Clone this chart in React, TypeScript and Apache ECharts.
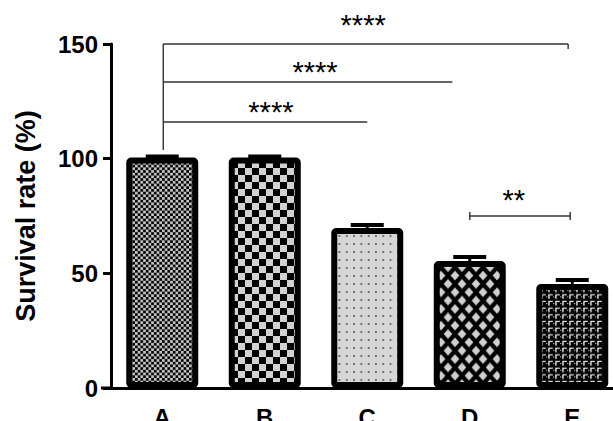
import React, { useEffect, useRef } from 'react';
import * as echarts from 'echarts';

// ---- data ----
const categories = ['A', 'B', 'C', 'D', 'E'];
const survival = [100.5, 100.5, 69.8, 55.4, 45.4];
const errorTop = [100.9, 100.9, 71.1, 57.1, 47.1];
const yTicks = [0, 50, 100, 150];

// significance brackets (x in category-index units, y in %)
const bracketStart = [0.01, 0.01, 0.01, 3.0];
const bracketEnd = [3.96, 2.83, 2.0, 3.98];
const bracketLevel = [150, 133.4, 116, 75];
const bracketLeftDrop = [103.8, 133.4, 116, 75];
const bracketCaps = ['right', 'none', 'none', 'both'];
const starLabels = ['****', '****', '****', '**'];
const starX = [1.96, 1.49, 1.06, 3.43];
const starY = [158.2, 137.8, 120.4, 82];

const FONT = 'Arial, "Liberation Sans", Helvetica, sans-serif';

function tile(w: number, h: number, draw: (ctx: CanvasRenderingContext2D) => void) {
  const c = document.createElement('canvas');
  c.width = w;
  c.height = h;
  const ctx = c.getContext('2d')!;
  draw(ctx);
  return c;
}

function makePatterns() {
  const gray = '#c9c9c9';
  // A: fine checkerboard
  const a = tile(20, 20, (ctx) => {
    ctx.fillStyle = gray; ctx.fillRect(0, 0, 20, 20);
    ctx.fillStyle = '#000'; ctx.fillRect(0, 0, 10, 10); ctx.fillRect(10, 10, 10, 10);
  });
  // B: coarse checkerboard
  const b = tile(20, 20, (ctx) => {
    ctx.fillStyle = '#d2d2d2'; ctx.fillRect(0, 0, 20, 20);
    ctx.fillStyle = '#000'; ctx.fillRect(0, 0, 10, 10); ctx.fillRect(10, 10, 10, 10);
  });
  // C: dots on light gray
  const c = tile(22, 24, (ctx) => {
    ctx.fillStyle = '#d6d6d6'; ctx.fillRect(0, 0, 22, 24);
    ctx.fillStyle = '#000'; ctx.fillRect(9, 10, 4, 4);
  });
  // D: black lattice with gray diamonds
  const d = tile(42, 50, (ctx) => {
    ctx.fillStyle = '#000'; ctx.fillRect(0, 0, 42, 50);
    ctx.fillStyle = '#d0d0d0';
    const hw = 13;
    const hh = 14.5;
    const centers = [[21, 25], [0, 0], [42, 0], [0, 50], [42, 50]];
    centers.forEach(([cx, cy]) => {
      ctx.beginPath();
      ctx.moveTo(cx, cy - hh); ctx.lineTo(cx + hw, cy); ctx.lineTo(cx, cy + hh); ctx.lineTo(cx - hw, cy);
      ctx.closePath(); ctx.fill();
    });
  });
  // E: black with small light "Γ" marks
  const e = tile(21, 20, (ctx) => {
    ctx.fillStyle = '#000'; ctx.fillRect(0, 0, 21, 20);
    ctx.fillStyle = '#f0f0f0';
    ctx.fillRect(7, 2, 13, 4);
    ctx.fillRect(7, 2, 4, 14);
    ctx.fillRect(0, 9, 4, 3);
  });
  return [
    { image: a, repeat: 'repeat', imageWidth: 5.4, imageHeight: 5.4 },
    { image: b, repeat: 'repeat', imageWidth: 14, imageHeight: 14 },
    { image: c, repeat: 'repeat', imageWidth: 7.3, imageHeight: 8 },
    { image: d, repeat: 'repeat', imageWidth: 14, imageHeight: 16.7 },
    { image: e, repeat: 'repeat', imageWidth: 7, imageHeight: 6.67 },
  ];
}

export default function App() {
  const ref = useRef<HTMLDivElement>(null);

  useEffect(() => {
    document.body.style.margin = '0';
    const chart = echarts.init(ref.current!, undefined, { renderer: 'svg' });
    const patterns = makePatterns();

    const option: any = {
      animation: false,
      backgroundColor: '#fff',
      grid: { left: 111, right: -10.5, top: 44, bottom: 33, containLabel: false, outerBoundsMode: 'none' },
      xAxis: [
        {
          type: 'category',
          data: categories,
          boundaryGap: true,
          axisLine: { onZero: false, lineStyle: { color: '#000', width: 3 } },
          axisTick: { alignWithLabel: true, length: 8, lineStyle: { color: '#000', width: 3 } },
          axisLabel: { color: '#000', fontSize: 24, fontWeight: 'bold', fontFamily: FONT, margin: 17 },
        },
        { type: 'value', min: -0.5, max: 4.5, show: false },
      ],
      yAxis: {
        type: 'value',
        min: yTicks[0],
        max: yTicks[yTicks.length - 1],
        interval: yTicks[1] - yTicks[0],
        name: 'Survival rate (%)',
        nameLocation: 'middle',
        nameGap: 72,
        nameTextStyle: { color: '#000', fontSize: 27, fontWeight: 'bold', fontFamily: FONT },
        axisLine: { show: true, onZero: false, lineStyle: { color: '#000', width: 3 } },
        axisTick: { show: true, length: 8, lineStyle: { color: '#000', width: 3 } },
        axisLabel: { color: '#000', fontSize: 24, fontWeight: 'bold', fontFamily: FONT, margin: 13 },
        splitLine: { show: false },
      },
      graphic: [
        { type: 'line', shape: { x1: 101, y1: 388, x2: 113, y2: 388 }, style: { stroke: '#000', lineWidth: 3 } },
      ],
      series: [
        {
          type: 'bar',
          xAxisIndex: 0,
          barWidth: 72,
          data: survival.map((v, i) => ({
            value: v,
            itemStyle: { color: patterns[i], borderColor: '#000', borderWidth: 6, borderJoin: 'round', borderRadius: 2 },
          })),
        },
        {
          type: 'custom',
          xAxisIndex: 1,
          yAxisIndex: 0,
          clip: false,
          data: survival.map((v, i) => [i, v, errorTop[i]]),
          encode: { x: 0, y: [1, 2] },
          renderItem: (params: any, api: any) => {
            const x = api.value(0);
            const base = api.coord([x, api.value(1)]);
            const top = api.coord([x, api.value(2)]);
            const half = 16.5;
            return {
              type: 'group',
              children: [
                { type: 'line', shape: { x1: base[0], y1: base[1], x2: top[0], y2: top[1] }, style: { stroke: '#000', lineWidth: 3 } },
                { type: 'line', shape: { x1: top[0] - half, y1: top[1], x2: top[0] + half, y2: top[1] }, style: { stroke: '#000', lineWidth: 4 } },
              ],
            };
          },
        },
        {
          type: 'custom',
          xAxisIndex: 1,
          yAxisIndex: 0,
          clip: false,
          data: bracketStart.map((s, i) => [s, bracketLevel[i], bracketEnd[i], bracketLeftDrop[i], starX[i], starY[i]]),
          encode: { x: [0, 2], y: 1 },
          renderItem: (params: any, api: any) => {
            const i = params.dataIndex;
            const p1 = api.coord([api.value(0), api.value(1)]);
            const p2 = api.coord([api.value(2), api.value(1)]);
            const drop = api.coord([api.value(0), api.value(3)]);
            const sp = api.coord([api.value(4), api.value(5)]);
            const st = { stroke: '#333', lineWidth: 1.4 };
            const children: any[] = [
              { type: 'line', shape: { x1: p1[0], y1: p1[1], x2: p2[0], y2: p2[1] }, style: st },
            ];
            if (drop[1] > p1[1] + 1) {
              children.push({ type: 'line', shape: { x1: p1[0], y1: p1[1], x2: p1[0], y2: drop[1] }, style: st });
            }
            const caps = bracketCaps[i];
            if (caps === 'right') {
              children.push({ type: 'line', shape: { x1: p2[0], y1: p2[1], x2: p2[0], y2: p2[1] + 5 }, style: st });
            } else if (caps === 'both') {
              children.push({ type: 'line', shape: { x1: p1[0], y1: p1[1] - 4, x2: p1[0], y2: p1[1] + 4 }, style: st });
              children.push({ type: 'line', shape: { x1: p2[0], y1: p2[1] - 4, x2: p2[0], y2: p2[1] + 4 }, style: st });
            }
            children.push({
              type: 'text',
              x: sp[0],
              y: sp[1],
              style: { text: starLabels[i], fill: '#000', fontSize: 29, fontFamily: FONT, align: 'center', verticalAlign: 'middle' },
            });
            return { type: 'group', children };
          },
        },
      ],
    };
    chart.setOption(option);
    return () => chart.dispose();
  }, []);

  return <div ref={ref} style={{ position: 'fixed', left: 0, top: 0, width: 613, height: 421 }} />;
}
